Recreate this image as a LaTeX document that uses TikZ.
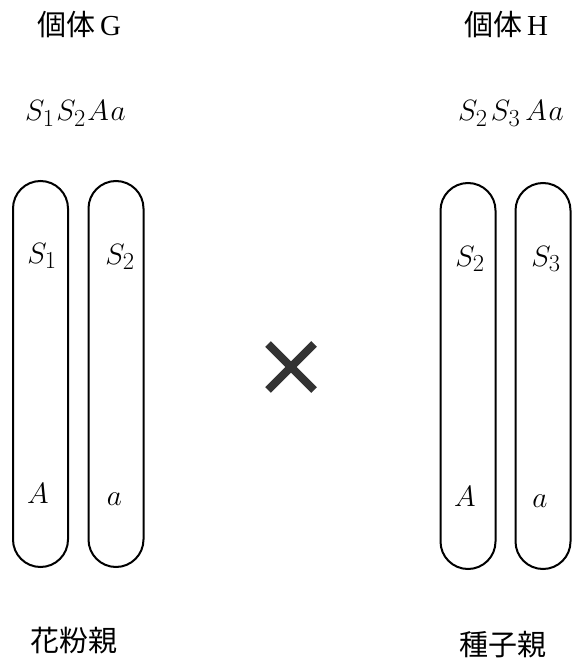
\documentclass[tikz,border=0pt]{standalone}
\usepackage{fontspec}
\usepackage{graphicx}
\usetikzlibrary{calc}
\newfontfamily\cjk{Noto Sans CJK JP}
\newfontfamily\serifrm{Liberation Serif}
\newcommand{\genemath}[1]{\scalebox{1.18}{\Huge$#1$}}
\begin{document}
\begin{tikzpicture}[x=1pt,y=-1pt,
  chrom/.style={draw=black,line width=2pt,rounded corners=27.5pt,minimum width=55pt,minimum height=386pt,inner sep=0pt},
  lab/.style={anchor=base west,inner sep=0pt},
  jp/.style={font=\fontsize{29}{34}\selectfont\cjk},
  gene/.style={anchor=base,inner sep=0pt}]
\useasboundingbox (0,0) rectangle (573,666);
\node[chrom] (c1) at (40.5,374) {};
\node[chrom] (c2) at (116,374) {};
\node[chrom] (c3) at (468,376) {};
\node[chrom] (c4) at (543,376) {};
\node[gene] (s1) at (42,263) {\genemath{S_1}};
\node[gene] (s2) at (120,264) {\genemath{S_2}};
\node[gene] (a1) at (38,503) {\genemath{A}};
\node[gene] (a2) at (114.5,505) {\genemath{a}};
\node[gene] (s2b) at (470,266) {\genemath{S_2}};
\node[gene] (s3) at (546,266) {\genemath{S_3}};
\node[gene] (a3) at (465,506) {\genemath{A}};
\node[gene] (a4) at (540,507) {\genemath{a}};
\node[jp,anchor=west,inner sep=0pt] (g) at (37,25) {個体\,{\serifrm G}};
\node[jp,anchor=west,inner sep=0pt] (h) at (464,25) {個体\,{\serifrm H}};
\node[lab] (gg) at (25,121) {\genemath{S_1\mkern1mu S_2\mkern1mu A\mkern1mu a}};
\node[lab] (hg) at (458,121) {\genemath{S_2\mkern2mu S_3\mkern3mu A\mkern1mu a}};
\node[jp] (p1) at (74,641) {花粉親};
\node[jp] (p2) at (503,645) {種子親};
\coordinate (x0) at (291,367);
\draw[line width=8pt,color=black!80] ($(x0)+(-23,-23)$) -- ($(x0)+(23,23)$) ($(x0)+(23,-23)$) -- ($(x0)+(-23,23)$);
\end{tikzpicture}
\end{document}
